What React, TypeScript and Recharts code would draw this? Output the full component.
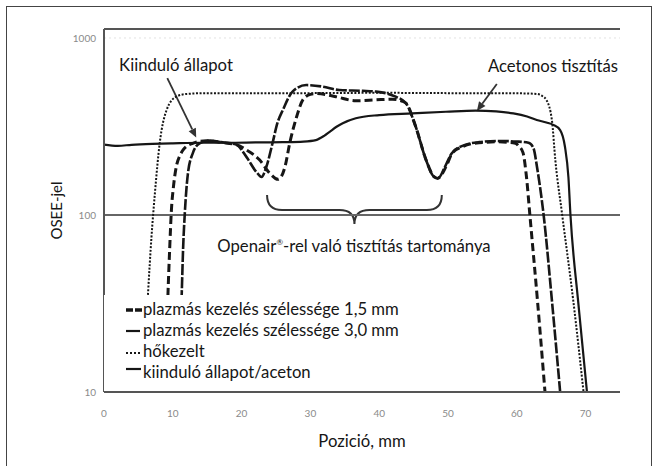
import React from 'react';
import { LineChart, Line, XAxis, YAxis, ReferenceLine, Legend, Customized } from 'recharts';

// ---------- data ----------
const xTicks = [0, 10, 20, 30, 40, 50, 60, 70];
const yTicks = [10, 100, 1000];

const s15X = [8.9, 9.1, 9.3, 9.55, 9.8, 10.1, 10.5, 11.0, 11.5, 12.9, 14.9, 17.0, 19.2, 20.7, 22.6, 24.1, 25.3, 26.3, 27.0, 28.0, 28.9, 30.0, 31.0, 33.7, 36.6, 39.5, 41.9, 43.3, 43.9, 45.3, 46.8, 48.0, 48.5, 49.7, 50.6, 52.1, 54.5, 57.4, 59.8, 60.3, 60.9, 61.4, 61.9, 63.0, 64.1];
const s15Y = [10, 20, 36, 65, 107, 145, 187, 215, 233, 254, 263, 257, 250, 233, 205, 172, 159, 187, 255, 359, 447, 480, 485, 466, 442, 447, 451, 440, 428, 316, 205, 164, 161, 187, 223, 243, 256, 259, 254, 245, 225, 165, 100, 33, 10];

const s30X = [10.9, 11.1, 11.3, 11.5, 11.75, 12.2, 12.9, 13.9, 15.4, 17.0, 19.2, 20.7, 22.1, 22.9, 23.6, 24.5, 25.2, 26.0, 27.4, 29.4, 31.8, 34.2, 37.6, 39.5, 41.2, 42.4, 43.9, 45.3, 46.8, 48.0, 48.6, 49.5, 50.5, 52.0, 54.5, 57.4, 60.0, 61.7, 62.4, 63.0, 63.9, 65.1, 66.3];
const s30Y = [10, 20, 36, 65, 103, 172, 223, 254, 263, 258, 250, 213, 176, 164, 187, 255, 330, 392, 498, 542, 531, 508, 503, 498, 485, 466, 428, 316, 205, 164, 162, 185, 222, 245, 258, 262, 260, 256, 240, 180, 100, 33, 10];

const heatX = [5.6, 6.0, 6.4, 6.9, 7.4, 8.1, 9.1, 10.5, 12.0, 15.0, 20.0, 30.0, 40.0, 50.0, 60.0, 62.9, 63.7, 64.3, 65.1, 65.6, 66.6, 68.2, 69.7];
const heatY = [10, 18, 36, 75, 133, 255, 392, 466, 483, 488, 487, 488, 490, 488, 487, 483, 470, 447, 344, 204, 100, 33, 10];

const baseX = [0, 2, 4, 7, 10, 14, 18, 22, 26, 29, 30.8, 32.0, 32.8, 33.8, 34.7, 36.6, 40.0, 44.8, 49.7, 54.0, 57.0, 59.5, 61.5, 62.9, 64.3, 65.3, 66.3, 67.0, 67.5, 67.8, 68.9, 70.2];
const baseY = [250, 246, 249, 252, 254, 256, 256, 257, 258, 260, 265, 280, 295, 315, 330, 352, 367, 375, 383, 389, 385, 375, 360, 344, 333, 323, 302, 243, 164, 100, 33, 10];

const seriesNames = [
  'plazmás kezelés szélessége 1,5 mm',
  'plazmás kezelés szélessége 3,0 mm',
  'hőkezelt',
  'kiinduló állapot/aceton',
];

const zip = (xs: number[], ys: number[]) => xs.map((x, i) => ({ x, y: ys[i] }));
const d15 = zip(s15X, s15Y);
const d30 = zip(s30X, s30Y);
const dHeat = zip(heatX, heatY);
const dBase = zip(baseX, baseY);

// ---------- layout ----------
const W = 660;
const H = 466;
const MARGIN = { top: 29, right: 40, bottom: 0, left: 10 };
const Y_AXIS_W = 94;
const X_AXIS_H = 74;
const X_DOMAIN: [number, number] = [0, 75];
const Y_DOMAIN: [number, number] = [10, 1124];
const FONT = 'Lato, "Open Sans", sans-serif';
const INK = '#161616';
const TXT = 16.7;

const PLOT_L = MARGIN.left + Y_AXIS_W;
const PLOT_T = MARGIN.top;
const PLOT_W = W - PLOT_L - MARGIN.right;
const PLOT_H = H - MARGIN.top - MARGIN.bottom - X_AXIS_H;
const px = (x: number) => PLOT_L + ((x - X_DOMAIN[0]) / (X_DOMAIN[1] - X_DOMAIN[0])) * PLOT_W;
const py = (v: number) => {
  const a = Math.log10(Y_DOMAIN[0]);
  const b = Math.log10(Y_DOMAIN[1]);
  return PLOT_T + ((b - Math.log10(v)) / (b - a)) * PLOT_H;
};

const Arrow = ({ x1, y1, x2, y2 }: { x1: number; y1: number; x2: number; y2: number }) => {
  const ang = Math.atan2(y2 - y1, x2 - x1);
  const L = 9;
  const w = 4;
  const bx = x2 - L * Math.cos(ang);
  const by = y2 - L * Math.sin(ang);
  const nx = -Math.sin(ang) * w;
  const ny = Math.cos(ang) * w;
  return (
    <g>
      <line x1={x1} y1={y1} x2={bx} y2={by} stroke="#333" strokeWidth={1.8} />
      <polygon points={`${x2},${y2} ${bx + nx},${by + ny} ${bx - nx},${by - ny}`} fill="#333" />
    </g>
  );
};

const Annotations = () => {
  const bL = px(23.7);
  const bR = px(49.1);
  const bM = (bL + bR) / 2;
  const yTop = 195;
  const yFlat = 210;
  const yTip = 224;
  const r = 15;
  const brace = `M ${bL} ${yTop} Q ${bL} ${yFlat} ${bL + r} ${yFlat} L ${bM - r} ${yFlat} Q ${bM} ${yFlat} ${bM} ${yTip} Q ${bM} ${yFlat} ${bM + r} ${yFlat} L ${bR - r} ${yFlat} Q ${bR} ${yFlat} ${bR} ${yTop}`;
  return (
    <g fontFamily={FONT} fill={INK}>
      <text x={176} y={71} fontSize={TXT} textAnchor="middle">Kiinduló állapot</text>
      <text x={553} y={72} fontSize={TXT} textAnchor="middle">Acetonos tisztítás</text>
      <text x={354} y={252} fontSize={TXT} textAnchor="middle">
        Openair<tspan fontSize={8} dy={-7}>®</tspan><tspan dy={7}>-rel való tisztítás tartománya</tspan>
      </text>
      <Arrow x1={px(9.2)} y1={py(594)} x2={px(13.4)} y2={py(274)} />
      <Arrow x1={px(57.1)} y1={py(550)} x2={px(54.2)} y2={py(387)} />
      <path d={brace} fill="none" stroke="#333" strokeWidth={2} />
    </g>
  );
};

const markerFor = (i: number) => {
  if (i === 0) return <line x1={0} y1={6} x2={16} y2={6} stroke={INK} strokeWidth={3.5} strokeDasharray="7 2" />;
  if (i === 1) return <line x1={0} y1={6} x2={14} y2={6} stroke={INK} strokeWidth={2.2} />;
  if (i === 2) return <line x1={0} y1={7} x2={15} y2={7} stroke={INK} strokeWidth={2} strokeDasharray="2 2" />;
  return <line x1={0} y1={2} x2={15} y2={2} stroke={INK} strokeWidth={2.2} />;
};

const LegendBox = () => (
  <div
    style={{
      background: '#fff',
      width: 348,
      height: 96,
      boxSizing: 'border-box',
      padding: '4px 0 0 22px',
      fontFamily: FONT,
      fontSize: TXT,
      color: INK,
      lineHeight: '21px',
    }}
  >
    {seriesNames.map((n, i) => (
      <div key={n} style={{ display: 'flex', alignItems: 'center', height: 21 }}>
        <svg width={17} height={12}>{markerFor(i)}</svg>
        <span>{n}</span>
      </div>
    ))}
  </div>
);

export default function App() {
  return (
    <div style={{ position: 'absolute', left: 0, top: 0, width: W, height: H, background: '#fff', overflow: 'hidden' }}>
      <div
        style={{
          position: 'absolute',
          left: 6,
          top: 6,
          width: 646,
          height: 480,
          border: '1.5px solid #444',
          boxSizing: 'border-box',
        }}
      />
      <LineChart width={W} height={H} margin={MARGIN} style={{ position: 'absolute', left: 0, top: 0 }}>
        <XAxis
          type="number"
          dataKey="x"
          domain={X_DOMAIN}
          ticks={xTicks}
          allowDataOverflow
          height={X_AXIS_H}
          tickLine={false}
          tickMargin={12}
          axisLine={{ stroke: '#555', strokeWidth: 2 }}
          tick={{ fill: '#8a8a8a', fontSize: 10, fontFamily: FONT }}
          label={{ value: 'Pozició, mm', position: 'insideBottom', offset: 19, fill: INK, fontSize: TXT, fontFamily: FONT }}
        />
        <YAxis
          type="number"
          scale="log"
          domain={Y_DOMAIN}
          ticks={yTicks}
          allowDataOverflow
          width={Y_AXIS_W}
          tickLine={false}
          axisLine={{ stroke: '#555', strokeWidth: 2 }}
          tick={{ fill: '#8a8a8a', fontSize: 10, fontFamily: FONT }}
          label={{ value: 'OSEE-jel', angle: -90, position: 'center', fill: INK, fontSize: 15, fontFamily: FONT }}
        />
        <ReferenceLine y={Y_DOMAIN[1]} stroke="#555" strokeWidth={2} />
        <ReferenceLine y={1000} stroke="#e2e2e2" strokeWidth={1} strokeDasharray="2 3" />
        <ReferenceLine y={100} stroke="#666" strokeWidth={2} />
        <Line data={dBase} dataKey="y" name={seriesNames[3]} type="monotone" stroke={INK} strokeWidth={2.2} dot={false} isAnimationActive={false} />
        <Line data={dHeat} dataKey="y" name={seriesNames[2]} type="monotone" stroke={INK} strokeWidth={2} strokeDasharray="2 1.6" dot={false} isAnimationActive={false} />
        <Line data={d30} dataKey="y" name={seriesNames[1]} type="monotone" stroke={INK} strokeWidth={2.6} strokeDasharray="11 2" dot={false} isAnimationActive={false} />
        <Line data={d15} dataKey="y" name={seriesNames[0]} type="monotone" stroke={INK} strokeWidth={3} strokeDasharray="8 4" dot={false} isAnimationActive={false} />
        <Customized component={<Annotations />} />
        <Legend
          layout="vertical"
          align="center"
          verticalAlign="middle"
          content={<LegendBox />}
          wrapperStyle={{ left: PLOT_L, top: 295, width: 348, height: 96 }}
        />
      </LineChart>
    </div>
  );
}
